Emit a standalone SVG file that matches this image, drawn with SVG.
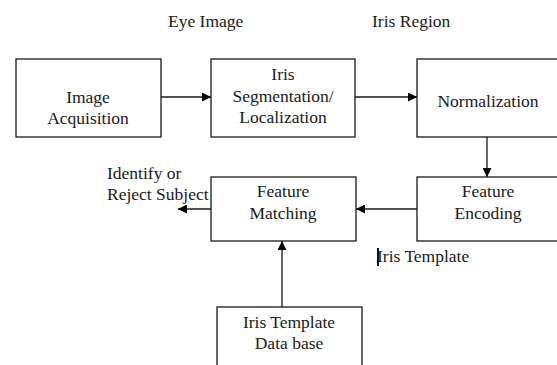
<svg xmlns="http://www.w3.org/2000/svg" width="557" height="365" viewBox="0 0 557 365">
  <style>
    .box { fill: #ffffff; stroke: #1a1a1a; stroke-width: 1.3; }
    .lbl { font-family: "Liberation Serif", "Times New Roman", serif; font-size: 17.5px; fill: #1a1a1a; }
    .mid { text-anchor: middle; }
    .wire { stroke: #1a1a1a; stroke-width: 1.3; fill: none; }
  </style>
  <defs>
    <marker id="arrow" viewBox="0 0 10 10" refX="10" refY="5" markerWidth="9" markerHeight="9" markerUnits="userSpaceOnUse" orient="auto">
      <path d="M0,0 L10,5 L0,10 Z" fill="#000000"/>
    </marker>
  </defs>
  <rect width="557" height="365" fill="#ffffff"/>

  <!-- free labels -->
  <text class="lbl" x="168" y="27">Eye Image</text>
  <text class="lbl" x="372" y="27">Iris Region</text>
  <text class="lbl" x="107" y="179">Identify or</text>
  <text class="lbl" x="107" y="200">Reject Subject</text>
  <g id="iris-template-label">
    <text class="lbl" x="377" y="262">Iris Template</text>
    <rect x="377" y="248" width="2" height="18" fill="#101030"/>
  </g>

  <!-- connectors -->
  <g id="connectors">
    <line class="wire" x1="161" y1="97" x2="211" y2="97" marker-end="url(#arrow)"/>
    <line class="wire" x1="355" y1="97" x2="417" y2="97" marker-end="url(#arrow)"/>
    <line class="wire" x1="487" y1="137" x2="487" y2="177" marker-end="url(#arrow)"/>
    <line class="wire" x1="417" y1="209" x2="356" y2="209" marker-end="url(#arrow)"/>
    <line class="wire" x1="211" y1="209" x2="178" y2="209" marker-end="url(#arrow)"/>
    <line class="wire" x1="282" y1="307" x2="282" y2="241" marker-end="url(#arrow)"/>
  </g>

  <g id="image-acquisition">
    <rect class="box" x="16" y="59" width="145" height="78"/>
    <text class="lbl mid" x="88" y="103">Image</text>
    <text class="lbl mid" x="88" y="124">Acquisition</text>
  </g>

  <g id="iris-segmentation">
    <rect class="box" x="211" y="59" width="144" height="78"/>
    <text class="lbl mid" x="283" y="80">Iris</text>
    <text class="lbl mid" x="283" y="102">Segmentation/</text>
    <text class="lbl mid" x="283" y="123">Localization</text>
  </g>

  <g id="normalization">
    <rect class="box" x="417" y="59" width="150" height="78"/>
    <text class="lbl mid" x="488" y="107">Normalization</text>
  </g>

  <g id="feature-encoding">
    <rect class="box" x="417" y="177" width="150" height="64"/>
    <text class="lbl mid" x="488" y="197">Feature</text>
    <text class="lbl mid" x="488" y="219">Encoding</text>
  </g>

  <g id="feature-matching">
    <rect class="box" x="211" y="177" width="145" height="64"/>
    <text class="lbl mid" x="283" y="197">Feature</text>
    <text class="lbl mid" x="283" y="219">Matching</text>
  </g>

  <g id="template-database">
    <rect class="box" x="217" y="307" width="145" height="70"/>
    <text class="lbl mid" x="289" y="328">Iris Template</text>
    <text class="lbl mid" x="289" y="349">Data base</text>
  </g>
</svg>
